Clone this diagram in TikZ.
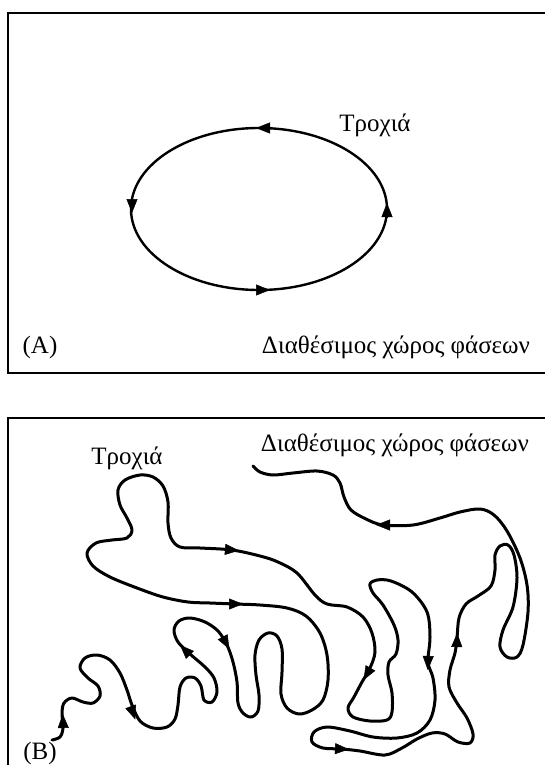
\documentclass[tikz,border=0pt]{standalone}
\usepackage{fontspec}
\setmainfont{Liberation Serif}
\usetikzlibrary{arrows.meta}

\begin{document}
\begin{tikzpicture}[x=1pt,y=-1pt,
  every node/.style={font=\fontsize{25}{29}\selectfont,inner sep=0pt},
  panel/.style={line width=2pt},
  traj/.style={line width=3pt,line join=round,line cap=round},
  arrowhead/.style={line width=0.5pt,-{Triangle[length=14pt,width=11pt]}}]
\useasboundingbox (0,0) rectangle (545,765);

% (A) periodic orbit
\draw[panel] (548,13) -- (8,13) -- (8,373) -- (548,373);
\draw[line width=2.4pt] (259,209) ellipse [x radius=128, y radius=81];
\foreach \x/\y/\a in {263/128/180, 132/206/90, 263/290/0, 387/210/270}
  \draw[arrowhead] (\x,\y) ++(\a+180:7) -- ++(\a:14);
\node (trajA) at (375,125) {Τροχιά};
\node (labA) at (40,347) {(A)};
\node (spaceA) at (396,347) {Διαθέσιμος χώρος φάσεων};

% (B) wandering trajectory
\draw[panel] (548,418) -- (8,418) -- (8,768);
\node (spaceB) at (395,445) {Διαθέσιμος χώρος φάσεων};
\node (trajB) at (127,458) {Τροχιά};
\node (labB) at (40,753) {(B)};
\draw[traj] plot[smooth,tension=0.55] coordinates {
  (52,740) (60,737) (63,728) (62,713) (64,703) (72,698) (83,702) (93,703)
  (100,696) (98,686) (88,678) (80,668) (85,658) (97,655) (110,660) (120,673)
  (127,690) (132,705) (140,721) (153,728) (167,727) (175,719) (178,705)
  (180,687) (186,678) (195,678) (201,686) (204,700) (212,702) (217,692)
  (214,678) (205,667) (190,654) (178,642) (174,630) (179,621) (190,618)
  (205,622) (218,631) (227,645) (233,662) (237,682) (238,703) (243,713)
  (251,717) (258,711) (259,695) (256,675) (255,655) (259,640) (268,633)
  (277,636) (282,649) (282,672) (281,694) (287,708) (299,714) (312,710)
  (323,700) (328,680) (327,655) (320,633) (306,616) (287,608) (260,605)
  (235,604) (210,603) (188,602) (163,597) (137,588) (110,577) (93,566)
  (87,553) (96,543) (112,540) (127,538) (132,530) (127,518) (120,505)
  (118,490) (125,480) (140,475) (153,477) (163,486) (168,502) (168,523)
  (171,538) (180,547) (200,548) (232,550) (260,556) (278,562) (297,573)
  (315,595) (327,604) (347,607) (363,617) (372,633) (375,652) (370,668)
  (362,682) (354,697) (348,708) (353,717) (370,721) (387,720) (392,712)
  (392,693) (388,675) (389,662) (396,654) (398,640) (394,625) (383,605)
  (373,593) (370,584) (377,580) (391,581) (412,592) (427,612) (430,637)
  (428,662) (433,678) (435,700) (430,720) (417,733) (397,738) (373,737)
  (350,731) (327,727) (314,732) (312,742) (323,748) (342,749) (360,751)
  (385,755) (402,748) (417,739) (432,733) (445,734) (458,742) (470,743)
  (473,734) (467,718) (457,703) (449,687) (450,670) (455,653) (457,638)
  (459,618) (466,604) (478,596) (491,586) (495,570) (495,555) (500,546)
  (508,545) (514,555) (517,578) (513,607) (503,630) (500,647) (507,657)
  (517,657) (523,645) (528,612) (527,585) (520,558) (507,531) (494,515)
  (480,509) (460,512) (440,518) (413,525) (383,525) (366,519) (351,510)
  (344,497) (340,483) (333,475) (317,471) (293,473) (273,475) (260,472)
  (253,466)};
\foreach \x/\y/\a in {63/721/268, 133/713/70, 185/650/225, 226/643/62,
    232/550/5, 236/604/0, 383/525/180, 367/674/120, 428/663/92,
    457/640/272, 342/749/3}
  \draw[arrowhead] (\x,\y) ++(\a+180:7) -- ++(\a:14);
\end{tikzpicture}
\end{document}
